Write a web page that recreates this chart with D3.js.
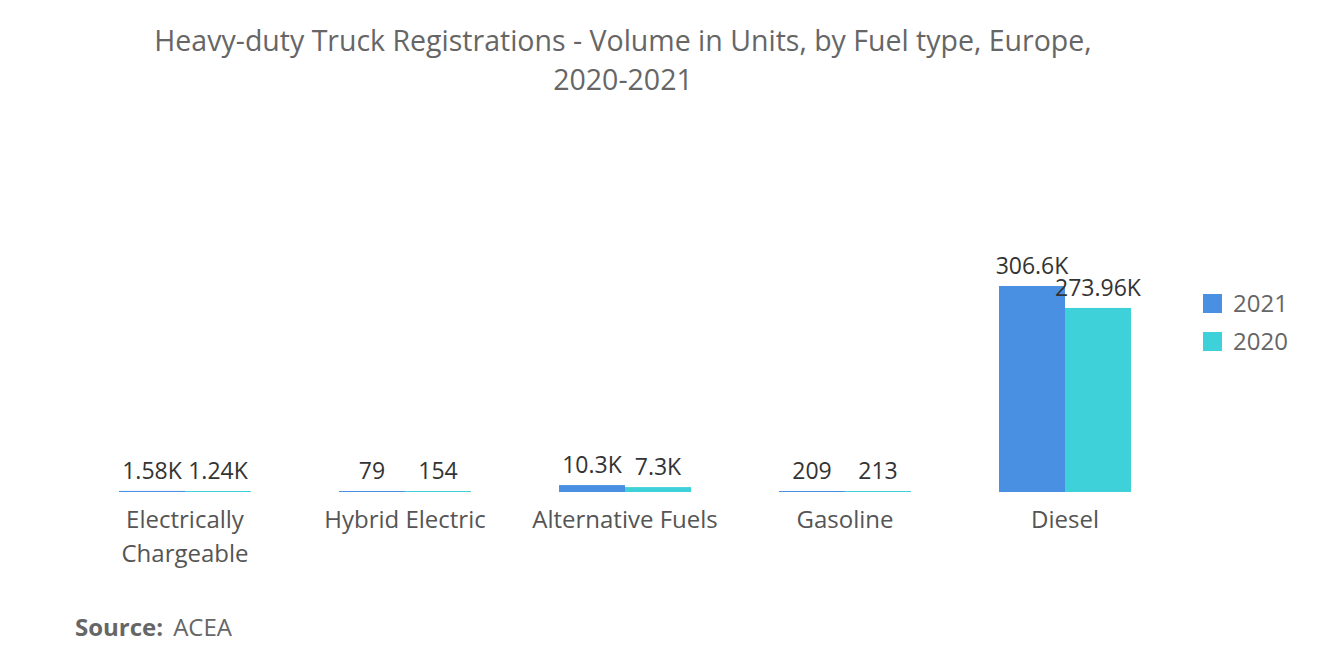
<!DOCTYPE html>
<html><head><meta charset="utf-8">
<script src="https://cdn.jsdelivr.net/npm/d3@7"></script>
<style>body{margin:0;background:#fff;font-family:"Open Sans",sans-serif;}</style>
</head><body>
<svg id="chart" width="1320" height="665"></svg>
<script>
const categories = ["Electrically Chargeable", "Hybrid Electric", "Alternative Fuels", "Gasoline", "Diesel"];
const years = ["2021", "2020"];
const values2021 = [1580, 79, 10300, 209, 306600];
const values2020 = [1240, 154, 7300, 213, 273960];
const labels2021 = ["1.58K", "79", "10.3K", "209", "306.6K"];
const labels2020 = ["1.24K", "154", "7.3K", "213", "273.96K"];
const colors = ["#4a90e2", "#3fd1d9"];

const svg = d3.select("#chart");

// titre
svg.append("text").attr("x", 623).attr("y", 51).attr("text-anchor", "middle")
  .attr("font-size", 28.5).attr("fill", "#666").text("Heavy-duty Truck Registrations - Volume in Units, by Fuel type, Europe,");
svg.append("text").attr("x", 623).attr("y", 90).attr("text-anchor", "middle")
  .attr("font-size", 28.5).attr("fill", "#666").text("2020-2021");

const x = d3.scaleBand().domain(categories).range([75, 1175]);
const x1 = d3.scaleBand().domain(years).range([0, x.bandwidth()]).paddingInner(0).paddingOuter(0.667);
const y = d3.scaleLinear().domain([0, 306600]).range([492, 286]);

const rows = categories.map((c, i) => ({c, v: [values2021[i], values2020[i]], l: [labels2021[i], labels2020[i]]}));

const g = svg.selectAll("g.cat").data(rows).enter().append("g")
  .attr("transform", d => `translate(${x(d.c)},0)`);

g.selectAll("rect").data(d => d.v.map((v, k) => ({v, k}))).enter().append("rect")
  .attr("x", d => x1(years[d.k]))
  .attr("width", x1.bandwidth())
  .attr("y", d => Math.min(y(d.v), 491))
  .attr("height", d => Math.max(492 - y(d.v), 1))
  .attr("fill", d => colors[d.k]);

g.selectAll("text.val").data(d => d.l.map((l, k) => ({l, k, v: d.v[k]}))).enter().append("text")
  .attr("class", "val")
  .attr("x", d => x1(years[d.k]) + x1.bandwidth() / 2)
  .attr("y", d => Math.min(y(d.v), 491) - 12)
  .attr("text-anchor", "middle").attr("font-size", 23).attr("fill", "#333")
  .text(d => d.l);

// libellés de l'axe
const xl = svg.selectAll("text.cat").data(categories).enter().append("text")
  .attr("x", d => x(d) + x.bandwidth() / 2).attr("y", 528)
  .attr("text-anchor", "middle").attr("font-size", 24).attr("fill", "#555");
xl.each(function (d) {
  const parts = d === "Electrically Chargeable" ? ["Electrically", "Chargeable"] : [d];
  d3.select(this).selectAll("tspan").data(parts).enter().append("tspan")
    .attr("x", x(d) + x.bandwidth() / 2).attr("dy", (p, i) => i ? 34 : 0).text(p => p);
});

// légende
const lg = svg.selectAll("g.leg").data(years).enter().append("g")
  .attr("transform", (d, i) => `translate(1203,${294 + i * 38})`);
lg.append("rect").attr("width", 19).attr("height", 19).attr("fill", (d, i) => colors[i]);
lg.append("text").attr("x", 30).attr("y", 18).attr("font-size", 24).attr("fill", "#666").text(d => d);

svg.append("text").attr("x", 75).attr("y", 636).attr("font-size", 24).attr("fill", "#666")
  .html('<tspan font-weight="bold">Source:</tspan><tspan dx="10">ACEA</tspan>');
</script>
</body></html>
